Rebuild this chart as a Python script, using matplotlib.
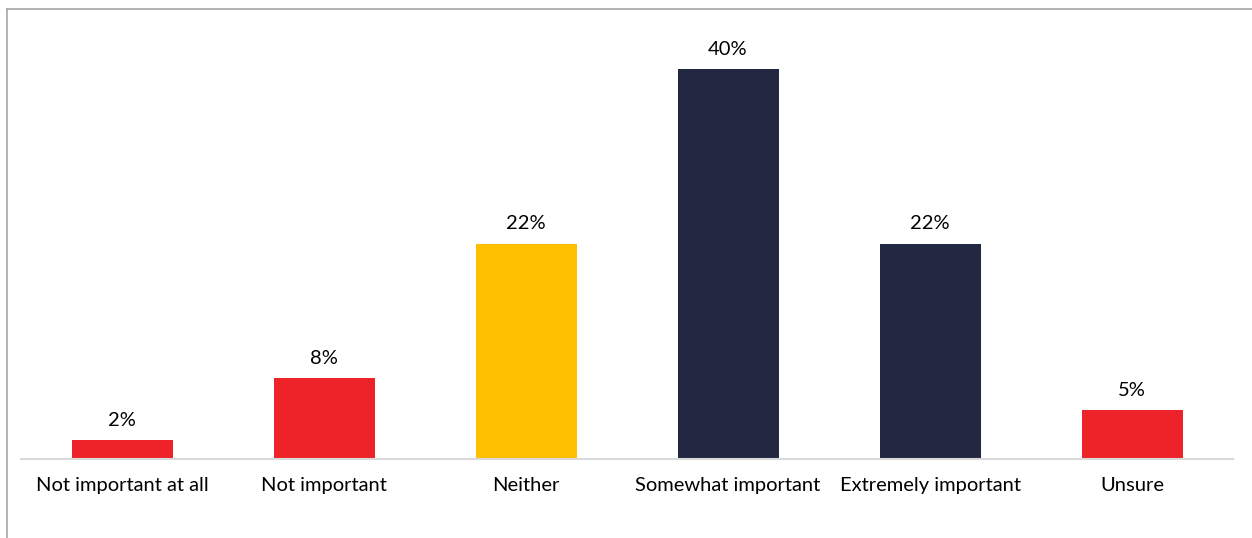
import matplotlib.pyplot as plt
from matplotlib.lines import Line2D

# survey answers, share of respondents in %
categories = ['Not important at all', 'Not important', 'Neither',
              'Somewhat important', 'Extremely important', 'Unsure']
values = [1.9, 8.3, 22.1, 40.0, 22.1, 5.0]
colors = ['#EE2229', '#EE2229', '#FFC000', '#232842', '#232842', '#EE2229']

plt.rcParams['font.family'] = ['Lato', 'DejaVu Sans']

W, H = 1252, 538
fig = plt.figure(figsize=(W / 100, H / 100), dpi=100)

# plot area: baseline at y=459 px, x from 21 to 1233 px
ax = fig.add_axes([21 / W, (H - 459) / H, 1212 / W, (459 - 30) / H])

x = range(len(categories))
bars = ax.bar(x, values, width=0.5, color=colors)

for b, v in zip(bars, values):
    ax.annotate(f'{round(v)}%', (b.get_x() + b.get_width() / 2, b.get_height()),
                xytext=(0, 8), textcoords='offset points',
                ha='center', va='bottom', fontsize=14.5, color='#000000')

ax.set_xlim(-0.5, len(categories) - 0.5)
ax.set_ylim(0, 44)
ax.set_xticks(list(x))
ax.set_xticklabels(categories, fontsize=14.5)
ax.tick_params(axis='x', length=0, pad=13)
ax.set_yticks([])

for s in ['top', 'left', 'right']:
    ax.spines[s].set_visible(False)
ax.spines['bottom'].set_color('#D9D9D9')
ax.spines['bottom'].set_linewidth(1.5)

# grey frame on top and left of the picture
fig.add_artist(Line2D([7 / W, 1], [1 - 9 / H, 1 - 9 / H], color='#A6A6A6', lw=1.2))
fig.add_artist(Line2D([7 / W, 7 / W], [0, 1 - 9 / H], color='#A6A6A6', lw=1.2))

fig.savefig('out.png', dpi=100)
